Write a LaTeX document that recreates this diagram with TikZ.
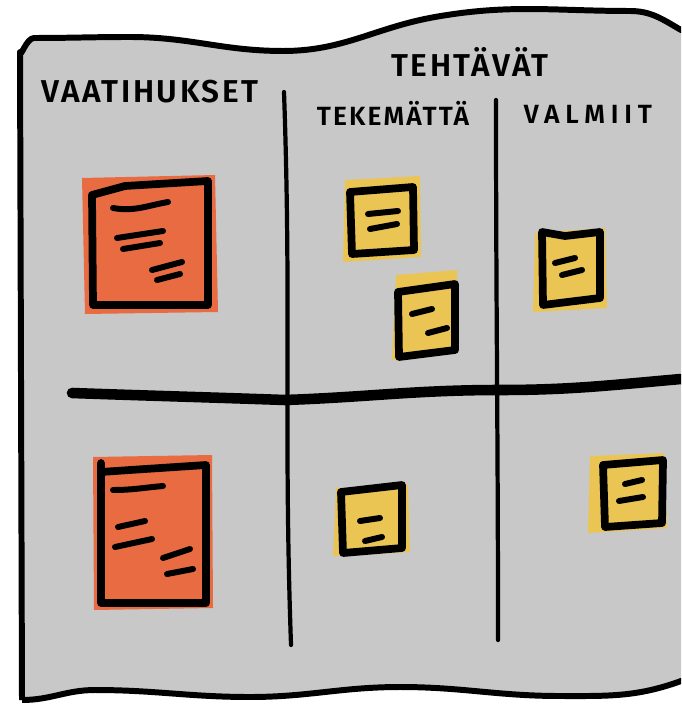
\documentclass[tikz,border=0pt]{standalone}
\usepackage{fontspec}
\newfontfamily\hand[LetterSpace=8]{Fira Sans SemiBold}
\newfontfamily\handwide[LetterSpace=22]{Fira Sans SemiBold}
\usetikzlibrary{positioning}
\definecolor{boardgray}{HTML}{C8C8C8}
\definecolor{reqorange}{HTML}{E96B42}
\definecolor{taskyellow}{HTML}{EBC553}
\tikzset{board/.style=
   {fill=boardgray,
    draw=black,
    line width=3.4pt,
    line join=round}}
\tikzset{divider/.style = {draw, line width=2.4pt, line cap=round}}
\tikzset{frame/.style =
   {draw,
    line width=4.4pt,
    line join=round,
    line cap=round}}
\tikzset{scribble/.style = {draw, line width=3.4pt, line cap=round}}
\tikzset{heading/.style =
   {font=\hand\fontsize{18}{18}\selectfont,
    inner sep=0pt}}
\tikzset{subheading/.style =
   {font=\hand\fontsize{15}{15}\selectfont,
    inner sep=0pt}}

\begin{document}
\begin{tikzpicture}[x=0.02cm, y=-0.02cm]
    \useasboundingbox (0,0) rectangle (681,705);
    \clip (0,0) rectangle (681,705);

    % the board
    \path [board] (22,700) -- (20,52) to[out=-90,in=180] (34,38)
        to[out=0,in=180] (130,37) to[out=0,in=180] (283,51)
        to[out=0,in=190] (435,17) to[out=10,in=180] (630,11)
        to[out=0,in=150] (681,30) -- (700,30) -- (700,684)
        -- (681,681) to[out=200,in=0] (560,696)
        to[out=180,in=0] (400,687) to[out=180,in=0] (250,697)
        to[out=180,in=0] (95,690) to[out=180,in=0] (22,700);

    % columns and swimlane
    \draw [divider] (284,92) to[out=-88,in=92] (291,645);
    \draw [divider] (496,100) to[out=-90,in=90] (498,640);
    \draw [line width=6pt, line cap=round] (72,393)
        to[out=-2,in=178] (285,400) to[out=2,in=180] (500,390)
        to[out=0,in=185] (681,379);

    % headings
    \node [heading] (req) at (150,92) {VAATIHUKSET};
    \node [heading] (tasks) at (470,62) {TEHTÄVÄT};
    \node [subheading] (todo) at (393,113) {TEKEMÄTTÄ};
    \node [subheading, font=\handwide\fontsize{15}{15}\selectfont] (done) at (588,114) {VALMIIT};

    % requirement cards
    \fill [reqorange] (82,178) -- (215,175) -- (218,312) -- (85,314) -- cycle;
    \draw [frame] (92,195) -- (125,186) -- (208,181) -- (208,305) -- (93,305) -- cycle;
    \draw [scribble] (113,208) to[out=-10,in=190] (168,202);
    \draw [scribble] (117,238) -- (163,231);
    \draw [scribble] (123,249) -- (160,243);
    \draw [scribble] (152,270) -- (182,262);
    \draw [scribble] (157,280) -- (180,274);

    \fill [reqorange] (93,457) -- (212,455) -- (213,608) -- (94,610) -- cycle;
    \draw [frame] (101,463) -- (101,472) -- (130,470) -- (206,465) -- (206,603) -- (101,603) -- cycle;
    \draw [scribble] (113,490) to[out=0,in=185] (163,486);
    \draw [scribble] (118,527) -- (145,521);
    \draw [scribble] (115,547) -- (152,539);
    \draw [scribble] (163,558) -- (190,549);
    \draw [scribble] (167,574) -- (193,569);

    % task cards, to do
    \fill [taskyellow] (345,180) -- (420,176) -- (421,257) -- (343,262) -- cycle;
    \draw [frame] (350,192) -- (413,187) -- (414,250) -- (352,254) -- cycle;
    \draw [scribble] (368,214) -- (398,211);
    \draw [scribble] (370,229) -- (397,224);

    \fill [taskyellow] (396,275) -- (457,270) -- (458,352) -- (392,360) -- cycle;
    \draw [frame] (398,292) -- (455,284) -- (455,350) -- (399,357) -- cycle;
    \draw [scribble] (412,314) -- (432,309);
    \draw [scribble] (428,333) -- (447,328);

    \fill [taskyellow] (336,488) -- (408,485) -- (410,552) -- (333,556) -- cycle;
    \draw [frame] (341,492) -- (402,485) -- (402,548) -- (343,553) -- cycle;
    \draw [scribble] (360,521) -- (380,518);
    \draw [scribble] (365,541) -- (382,537);

    % task cards, done
    \fill [taskyellow] (535,233) -- (605,228) -- (607,308) -- (533,312) -- cycle;
    \draw [frame] (542,232) -- (565,236) -- (600,232) -- (600,298) -- (543,305) -- cycle;
    \draw [scribble] (555,263) -- (575,258);
    \draw [scribble] (562,275) -- (582,270);

    \fill [taskyellow] (590,456) -- (664,453) -- (667,528) -- (588,533) -- cycle;
    \draw [frame] (603,465) -- (663,460) -- (662,523) -- (605,527) -- cycle;
    \draw [scribble] (625,484) -- (642,480);
    \draw [scribble] (619,501) -- (643,497);

\end{tikzpicture}
\end{document}
